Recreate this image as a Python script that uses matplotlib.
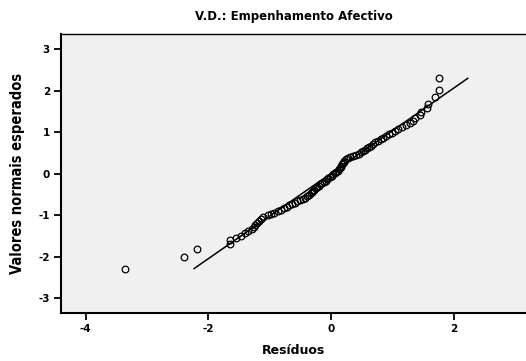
import matplotlib
matplotlib.use('Agg')
import matplotlib.pyplot as plt

# residuals (x) and expected normal values (y)
residuos = [-3.36, -2.40, -2.19, -1.65, -1.64, -1.55, -1.47, -1.40, -1.35, -1.29,
            -1.26, -1.23, -1.20, -1.17, -1.14, -1.10, -1.03, -0.98, -0.92, -0.87,
            -0.82, -0.77, -0.72, -0.68, -0.63, -0.58, -0.55, -0.51, -0.46, -0.42,
            -0.39, -0.36, -0.33, -0.31, -0.29, -0.27, -0.24, -0.22, -0.19, -0.17,
            -0.14, -0.11, -0.08, -0.06, -0.04, -0.01, 0.01, 0.03, 0.06, 0.09,
            0.11, 0.13, 0.15, 0.16, 0.17, 0.18, 0.19, 0.21, 0.22, 0.24,
            0.28, 0.31, 0.36, 0.41, 0.45, 0.49, 0.52, 0.55, 0.58, 0.62,
            0.65, 0.68, 0.72, 0.76, 0.81, 0.85, 0.90, 0.94, 0.99, 1.04,
            1.10, 1.16, 1.22, 1.29, 1.33, 1.37, 1.45, 1.47, 1.56, 1.58,
            1.70, 1.76, 1.76]
esperados = [-2.28, -1.99, -1.82, -1.70, -1.60, -1.54, -1.49, -1.43, -1.38, -1.33,
             -1.28, -1.23, -1.18, -1.13, -1.08, -1.04, -1.00, -0.97, -0.94, -0.90,
             -0.86, -0.83, -0.79, -0.76, -0.73, -0.69, -0.66, -0.63, -0.60, -0.57,
             -0.54, -0.51, -0.47, -0.44, -0.41, -0.38, -0.35, -0.31, -0.28, -0.25,
             -0.22, -0.19, -0.16, -0.13, -0.10, -0.07, -0.04, -0.01, 0.02, 0.05,
             0.08, 0.11, 0.14, 0.17, 0.20, 0.23, 0.26, 0.29, 0.32, 0.35,
             0.38, 0.41, 0.43, 0.46, 0.49, 0.52, 0.55, 0.58, 0.62, 0.65,
             0.68, 0.72, 0.76, 0.79, 0.83, 0.87, 0.91, 0.95, 0.99, 1.04,
             1.08, 1.13, 1.18, 1.22, 1.28, 1.35, 1.42, 1.49, 1.58, 1.69,
             1.84, 2.01, 2.30]

# reference line ends
linha_x = [-2.23, 2.23]
linha_y = [-2.28, 2.30]

xticks = [-4, -2, 0, 2]
yticks = [-3, -2, -1, 0, 1, 2, 3]

fig = plt.figure(figsize=(5.26, 3.61), dpi=100)
ax = fig.add_axes([0.116, 0.133, 0.884, 0.773])
ax.set_facecolor('#f0f0f0')

ax.plot(linha_x, linha_y, color='black', lw=1.1)
ax.plot(residuos, esperados, 'o', ms=4.8, mfc='none', mec='black', mew=0.9)

ax.set_xlim(-4.40, 3.18)
ax.set_ylim(-3.35, 3.37)
ax.set_xticks(xticks)
ax.set_yticks(yticks)
ax.set_xticklabels([str(t) for t in xticks])
ax.set_yticklabels([str(t) for t in yticks])

for lab in ax.get_xticklabels() + ax.get_yticklabels():
    lab.set_fontweight('bold')
    lab.set_fontsize(7.5)
    lab.set_family('DejaVu Sans')
ax.tick_params(direction='out', length=5, width=1.3, pad=3)

for s in ['left', 'bottom']:
    ax.spines[s].set_linewidth(1.5)
ax.spines['top'].set_linewidth(1.0)
ax.spines['right'].set_visible(False)

ax.set_title('V.D.: Empenhamento Afectivo', fontsize=8.5, fontweight='bold', pad=10,
             family='DejaVu Sans')
ax.set_xlabel('Resíduos', fontsize=9, fontweight='bold', labelpad=7, family='DejaVu Sans')
ax.set_ylabel('Valores normais esperados', fontsize=10.5, fontweight='bold', labelpad=10,
              family='DejaVu Sans', fontstretch='condensed')

fig.savefig('out.png', dpi=100)
